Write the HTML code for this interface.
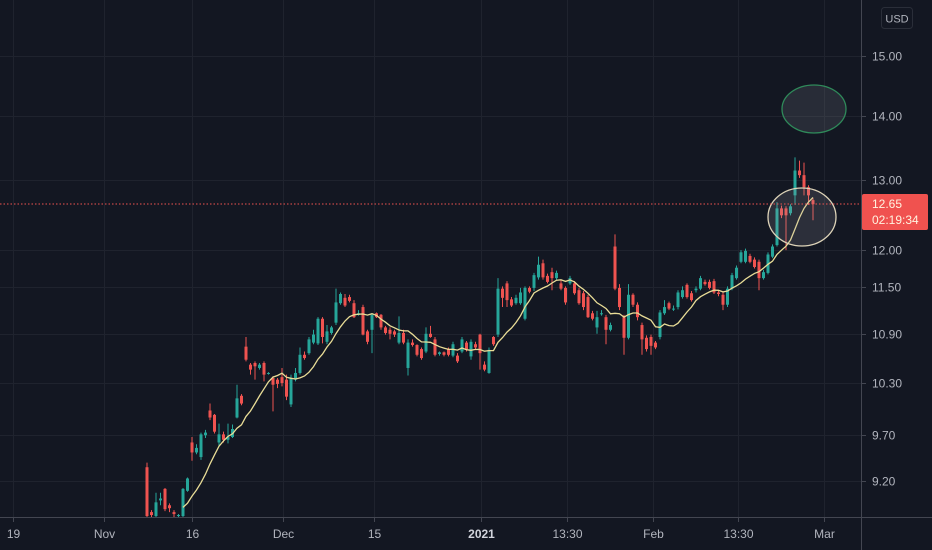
<!DOCTYPE html>
<html><head><meta charset="utf-8"><style>
html,body{margin:0;padding:0;background:#131722;}
svg{display:block;font-family:"Liberation Sans",sans-serif;}
</style></head><body>
<svg id="chart" width="932" height="550" viewBox="0 0 932 550" xmlns="http://www.w3.org/2000/svg">
<rect x="0" y="0" width="932" height="550" fill="#131722"/>
<g id="grid"></g>
<g id="candles"></g>
<path id="ma" fill="none" stroke="#e9dd97" stroke-width="1.3"/>
<ellipse cx="814" cy="109" rx="32" ry="24" fill="rgba(120,123,134,0.22)" stroke="#2f8a5a" stroke-width="1.3"/>
<ellipse cx="802" cy="217" rx="34" ry="29" fill="rgba(160,163,174,0.18)" stroke="#ddd3b8" stroke-width="1.3"/>
<line x1="0" y1="204" x2="860" y2="204" stroke="#ef5350" stroke-width="1" stroke-dasharray="1.5,2"/>
<line x1="0" y1="517.5" x2="932" y2="517.5" stroke="#434651" stroke-width="1"/>
<line x1="861.5" y1="0" x2="861.5" y2="550" stroke="#434651" stroke-width="1"/>
<g id="yaxis"></g>
<g id="xaxis"></g>
<rect x="881.5" y="7.5" width="31" height="21" rx="3" fill="#131722" stroke="#2a2e39"/>
<text x="897" y="22.5" fill="#b2b5be" font-size="11" text-anchor="middle">USD</text>
<rect x="862" y="194" width="66" height="36" rx="2" fill="#f0524f"/>
<text x="872" y="208" fill="#fff3e0" font-size="12">12.65</text>
<text x="872" y="224" fill="#fff3e0" font-size="12">02:19:34</text>
</svg>
<script>
const opens =[9.35,8.88,8.84,9.00,9.12,8.95,8.88,8.84,8.84,9.10,9.62,9.51,9.46,9.70,9.98,9.93,9.62,9.71,9.65,9.68,9.90,10.15,10.74,10.52,10.54,10.48,10.54,10.41,10.36,10.34,10.37,10.34,10.05,10.34,10.42,10.64,10.66,10.79,10.78,11.09,10.80,10.91,11.04,11.29,11.36,11.37,11.29,11.14,11.24,10.93,10.95,11.16,11.14,10.98,10.95,10.93,10.79,10.91,10.48,10.79,10.76,10.71,10.68,10.90,10.83,10.65,10.67,10.71,10.63,10.63,10.68,10.79,10.62,10.77,10.89,10.52,10.42,10.86,10.89,11.48,11.55,11.34,11.29,11.29,11.09,11.49,11.49,11.63,11.82,11.65,11.70,11.62,11.55,11.49,11.55,11.55,11.46,11.42,11.37,11.16,10.98,11.15,11.11,10.95,12.05,11.49,11.11,10.85,11.40,11.27,11.01,10.85,10.86,10.79,10.86,11.16,11.29,11.21,11.24,11.37,11.53,11.42,11.46,11.48,11.57,11.57,11.58,11.43,11.40,11.27,11.48,11.62,11.84,11.84,11.92,11.87,11.84,11.62,11.69,11.91,12.07,12.59,12.59,12.52,12.78,13.15,13.08,12.90,12.71];
const closes=[8.84,8.85,8.98,9.02,8.91,8.92,8.86,8.85,9.12,9.23,9.51,9.56,9.71,9.73,9.90,9.74,9.71,9.65,9.68,9.77,10.12,10.06,10.58,10.46,10.50,10.52,10.40,10.42,10.28,10.29,10.30,10.14,10.36,10.42,10.64,10.60,10.83,10.89,11.09,10.86,10.93,10.98,11.30,11.41,11.26,11.32,11.11,11.16,10.89,10.80,11.14,11.11,10.98,10.91,10.90,10.89,10.91,10.79,10.79,10.76,10.64,10.60,10.90,10.86,10.64,10.67,10.64,10.64,10.77,10.56,10.83,10.71,10.80,10.73,10.66,10.46,10.70,10.77,11.48,11.36,11.33,11.26,11.36,11.43,11.49,11.44,11.66,11.80,11.63,11.57,11.62,11.69,11.48,11.30,11.62,11.42,11.29,11.24,11.11,11.09,11.11,11.16,10.95,11.01,11.48,11.24,10.85,11.40,11.27,11.11,10.83,10.71,10.75,10.73,11.17,11.24,11.22,11.22,11.43,11.46,11.37,11.33,11.48,11.62,11.54,11.49,11.43,11.41,11.27,11.48,11.66,11.76,11.97,11.99,11.84,11.77,11.62,11.70,11.94,12.05,12.59,12.49,12.49,12.62,13.15,13.08,12.90,12.78,12.65];
const highs =[9.40,8.90,9.08,9.08,9.13,8.97,8.90,8.86,9.13,9.24,9.68,9.60,9.73,9.76,10.06,9.94,9.83,9.74,9.83,9.82,10.28,10.17,10.86,10.54,10.56,10.54,10.56,10.43,10.38,10.36,10.48,10.40,10.40,10.48,10.73,10.68,10.86,10.95,11.11,11.11,11.01,11.00,11.48,11.43,11.41,11.40,11.33,11.20,11.27,10.95,11.16,11.17,11.15,11.00,10.98,10.95,11.12,10.95,10.83,10.83,10.77,10.73,10.98,11.00,10.86,10.68,10.68,10.73,10.80,10.66,10.86,10.81,10.83,10.80,10.90,10.56,10.73,10.87,11.62,11.51,11.58,11.37,11.40,11.49,11.51,11.51,11.69,11.91,11.87,11.68,11.76,11.72,11.59,11.51,11.65,11.58,11.49,11.45,11.40,11.19,11.19,11.20,11.14,11.04,12.22,11.54,11.14,11.54,11.42,11.30,11.04,10.88,10.89,10.81,11.20,11.33,11.31,11.26,11.46,11.51,11.55,11.45,11.51,11.65,11.60,11.60,11.61,11.46,11.43,11.51,11.69,11.79,12.00,12.02,11.95,11.90,11.87,11.73,11.97,12.08,12.68,12.63,12.62,12.65,13.35,13.30,13.27,12.93,12.74];
const lows  =[8.83,8.83,8.83,8.95,8.89,8.88,8.82,8.82,8.83,9.09,9.42,9.49,9.43,9.67,9.87,9.72,9.58,9.62,9.61,9.67,9.89,10.04,10.56,10.40,10.34,10.46,10.32,10.40,9.97,10.24,10.26,10.10,10.02,10.32,10.40,10.58,10.64,10.77,10.76,10.78,10.77,10.89,11.01,11.27,11.24,11.30,11.10,11.13,10.88,10.77,10.66,11.10,10.95,10.89,10.83,10.86,10.77,10.77,10.39,10.74,10.62,10.58,10.66,10.85,10.62,10.63,10.62,10.62,10.61,10.54,10.66,10.68,10.58,10.71,10.46,10.44,10.41,10.75,10.86,11.24,11.24,11.24,11.27,11.27,11.07,11.42,11.45,11.60,11.60,11.55,11.46,11.60,11.46,11.27,11.53,11.40,11.27,11.20,11.10,11.07,10.90,11.13,10.77,10.93,11.46,11.20,10.64,10.83,11.24,11.07,10.64,10.68,10.64,10.71,10.83,11.14,11.20,11.19,11.21,11.35,11.35,11.31,11.43,11.46,11.52,11.47,11.41,11.38,11.20,11.24,11.46,11.60,11.82,11.82,11.82,11.75,11.46,11.60,11.67,11.89,12.05,12.45,12.00,12.49,12.64,13.04,12.78,12.64,12.42];
const yTickValues=[15.00,14.00,13.00,12.00,11.50,10.90,10.30,9.70,9.20];
const xTickLabels=["19","Nov","16","Dec","15","2021","13:30","Feb","13:30","Mar"];
const xTickIndex=[-29.8,-9.6,10,30.2,50.4,74.2,93.3,112.4,131.3,150.4];

const NS="http://www.w3.org/2000/svg";
const PLOT_R=861, PLOT_B=517;
function yScale(p){return 56+(Math.log(15)-Math.log(p))*870;}
function xScale(i){return 147+4.5*i;}
function mk(tag,attrs,parent){const e=document.createElementNS(NS,tag);for(const k in attrs)e.setAttribute(k,attrs[k]);parent.appendChild(e);return e;}

const grid=document.getElementById('grid'),yax=document.getElementById('yaxis'),xax=document.getElementById('xaxis');
yTickValues.forEach(v=>{
  const y=Math.round(yScale(v))+0.5;
  const gl=mk('line',{x1:0,x2:PLOT_R,y1:y,y2:y,stroke:'#1f232e','stroke-width':1},grid);
  
  
  const tk=mk('line',{x1:861,x2:866,y1:y,y2:y,stroke:'#434651'},yax);
  
  
  const t=mk('text',{x:872,y:y+4,fill:'#b2b5be','font-size':12},yax);
  t.textContent=v.toFixed(2);
  
  
});
xTickLabels.forEach((lab,k)=>{
  const x=Math.round(xScale(xTickIndex[k]))+0.5;
  const gl=mk('line',{x1:x,x2:x,y1:0,y2:PLOT_B,stroke:'#1f232e','stroke-width':1},grid);
  
  
  const tk=mk('line',{x1:x,x2:x,y1:518,y2:522,stroke:'#434651'},xax);
  
  
  const t=mk('text',{x:x,y:538,fill:lab==='2021'?'#d1d4dc':'#b2b5be','font-size':12,'text-anchor':'middle','font-weight':lab==='2021'?'bold':'normal'},xax);
  t.textContent=lab;
  
  
});

const cg=document.getElementById('candles');
for(let i=0;i<closes.length;i++){
  const up=closes[i]>=opens[i], col=up?'#26a69a':'#ef5350', x=xScale(i);
  const hy=yScale(highs[i]), ly=Math.min(yScale(lows[i]),PLOT_B);
  const w=mk('line',{x1:x,x2:x,y1:hy,y2:ly,stroke:col,'stroke-width':1},cg);
  
  
  const top=yScale(Math.max(opens[i],closes[i])), bot=Math.min(yScale(Math.min(opens[i],closes[i])),PLOT_B);
  const b=mk('rect',{x:x-1.5,y:top,width:3,height:Math.max(1,bot-top),fill:col},cg);
  
  
}
const N=9;let d='';
for(let i=N-1;i<closes.length;i++){
  let s=0;for(let j=i-N+1;j<=i;j++)s+=closes[j];
  const y=Math.min(yScale(s/N),PLOT_B+5);
  d+=(d?'L':'M')+xScale(i).toFixed(1)+','+y.toFixed(1);
}
document.getElementById('ma').setAttribute('d',d);
</script>
</body></html>
